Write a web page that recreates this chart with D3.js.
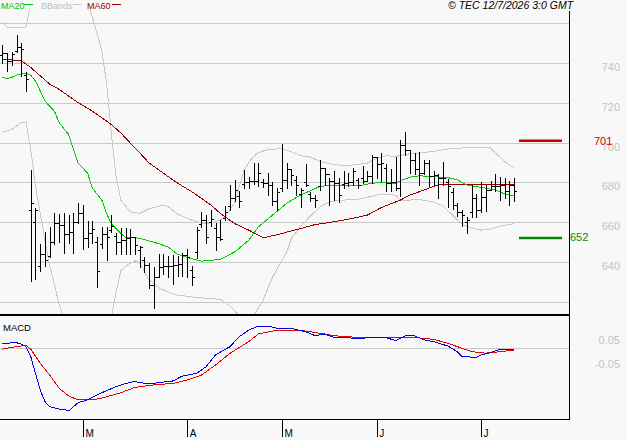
<!doctype html>
<html>
<head>
<meta charset="utf-8">
<script src="https://cdnjs.cloudflare.com/ajax/libs/d3/7.8.5/d3.min.js"></script>
<style>
    body { margin: 0; background: #f8f8f8; }
    svg { display: block; font-family: "Liberation Sans", Arial, sans-serif; }
</style>
</head>
<body>
<svg width="627" height="440"></svg>
<script>
    // daily OHLC, index 0 = first session on screen
    var opens = [744,745,741,746,748,734,666,660,638,644,
        643,650,659.5,658.5,654,655,660,664.5,652,654.5,
        650,649,654,656,653,650,651,652,652.5,646,
        641,638.5,628.5,632.5,637.5,638,638,638.5,639,643.5,
        636,645,659,661,660,657,652.5,662,668,672,
        673,679,680,680.5,680.5,680,679.5,678.5,670.5,677,
        681,686.5,681,674,680,674,672,678,687,684,
        680.5,679.5,679,679.5,680,681,682,680.5,683,693,
        689,687,679.5,680,677,699,696.5,691.5,686.5,684.5,
        689.5,683,683.5,682,680,675,668.5,665,660,665,
        672,666,672.5,676,678,678,678.5,675.5,678.5];
    var highs = [749,745,745.5,754,750,735.5,686,667,649,655,
        657.5,664.5,664,664.5,663.5,664.5,669.5,668.5,660.5,660.5,
        652.5,657.5,657.5,663.5,654.5,657,657,656.5,652.5,648,
        642.5,639.5,637.5,644,644,643,643.5,643,644.5,646.5,
        638,657.5,665,663.5,666,659.5,661,668,678.5,681,
        675.5,686,682.5,690,690,681.5,684.5,680,677,699.5,
        689.5,686.5,683,677,689,675,673.5,691.5,687,682,
        685.5,682,685.5,684.5,687,682,688,685.5,694,693,
        695,689,686.5,693,701.5,705.5,696.5,695,695.5,691.5,
        691.5,685.5,684,690.5,681.5,677,669.5,666,662.5,678.5,
        674,680,678.5,680.5,684,682.5,682,680.5,682];
    var lows = [740,736,739,745.5,733.5,726,630.5,631.5,635.5,638,
        642.5,649,650,644.5,649.5,644.5,659.5,646.5,647.5,649.5,
        627.5,647,641,655,644,644,644,644,644,637.5,
        635,627,617,632.5,634,632.5,629,633,633,632.5,
        628.5,642,657.5,649.5,658,646,651,661,666,670.5,
        667.5,677,677,679,678,677.5,673.5,668.5,666,675.5,
        677,678.5,673.5,667.5,678,670.5,667.5,676,678.5,668.5,
        671,670,677,678,678.5,677,679.5,680.5,679.5,682,
        680.5,675.5,675.5,676,673,694,684.5,684,678.5,684,
        678,678.5,672,678.5,667.5,666.5,663,658,654.5,662.5,
        662.5,665,665.5,676,675.5,671,672,668.5,670.5];
    var closes = [745,741,744.5,748,747,732,669.5,666,644,641,
        650,659.5,658.5,654,655,660,664.5,652,654.5,656.5,
        635.5,654,652.5,658,650,651,652,652.5,648.5,647.5,
        638.5,628.5,632.5,637.5,638,638,638.5,639,643.5,642.5,
        632.5,656,661,652.5,661.5,652.5,651.5,665,672,676,
        670.5,680,680.5,680.5,684.5,679.5,678.5,670.5,675,681,
        686.5,683.5,678.5,676,678.5,672,671,687,684,680.5,
        679.5,673.5,679.5,680,685.5,678.5,680.5,683,693,689,
        689.5,679.5,680,677,699,696.5,691.5,686.5,684.5,689.5,
        683,683.5,682,682,678,668.5,665,663.5,661,672,
        666,672.5,676,678,678,678.5,675.5,678.5,675.5];

    // indicator readings as [session index, value]
    var ma20 = [[0,732.8],[1,732.3],[2,732.8],[3,733.9],[5,734.9],[6,733.9],[7,731],[8,726],[9,720.9],[11,715.8],
        [12,710],[14,704.1],[15,696.5],[16,689.7],[18,684.7],[19,677.1],[21,671.1],[22,664.4],[23,659.3],[25,654.3],
        [26,652.3],[28,652.3],[30,651.2],[33,649.2],[35,647.5],[37,643.8],[40,641.6],[42,640.4],[44,640.8],[46,641.3],
        [49,645],[52,650.9],[54,657.6],[57,663.5],[60,669.5],[63,673.7],[65,675.8],[67,677.9],[69,678.6],[72,678.2],
        [75,678.2],[78,679.6],[80,679.9],[83,679.6],[84,680.9],[86,682.6],[88,683.3],[91,682.9],[94,682.4],[96,681.3],
        [98,678.7],[100,677.9],[102,677.1],[104,676.2],[106,674.2],[108,673.2]];
    var ma60 = [[0,742],[4,741.2],[6,737.8],[8,733.6],[10,729.4],[12,726.8],[14,723.4],[16,720.1],[19,715.8],[21,712.5],
        [23,709.1],[25,704.9],[27,699.8],[29,694.8],[31,689.7],[33,686.3],[35,682.9],[37,679.6],[40,675.3],[42,672],
        [44,668.6],[46,664.4],[49,659.3],[52,656],[54,653.4],[55,652.3],[56,652.6],[59,654.3],[61,655.6],[63,656.8],
        [66,658.8],[70,660.2],[73,661.5],[77,663.5],[80,667.4],[84,671.1],[86,673.7],[88,675.3],[90,677.1],[92,678.7],
        [94,679.1],[98,678.7],[101,678.7],[105,678.7],[108,678.7]];
    var bbUpper = [[0,760.6],[1,758.1],[5,758.1],[6,770],[7,782],[9,792],[12,796],[15,790],[17,780],[18,771],
        [19,763],[20,755],[21,746],[22,730],[23,704.7],[24,682.9],[25,671],[27,665.2],[29,664.4],[31,666.8],
        [34,668.6],[35,667.8],[37,664],[40,661],[43,659],[46,661],[47,662.7],[49,669.6],[50,678],[51,686],
        [52,690],[53,693],[54,694.9],[56,696.5],[59,697],[61,695.4],[63,693.4],[65,692.7],[67,690.5],[70,688.9],
        [73,688.4],[77,689.7],[79,692.3],[81,693.4],[83,693.1],[86,694.4],[88,694.8],[91,695.6],[94,696.8],[97,697.3],
        [100,697.3],[103,697.3],[104,694.8],[106,690.5],[108,687.2]];
    var bbLower = [[0,705.2],[2,706.6],[3,708.3],[4,710.3],[5,710.3],[6,696.5],[7,678.2],[8,664.6],[9,650.9],[10,638.2],
        [11,628.6],[12,618.5],[13,611.4],[15,603],[18,600],[20,602],[22,607.8],[23,612],[24,624.5],[25,635.5],
        [26,637.8],[27,639.3],[28,640.6],[29,639.5],[30,635],[31,631],[33,627],[35,624.8],[37,623.3],[40,622.4],
        [43,621.7],[46,621.2],[48,618],[50,612.9],[52,610.4],[53,612.9],[55,620.5],[56,626.6],[57,632.2],[58,636.7],
        [60,644.8],[61,651.9],[63,658],[65,663],[67,667.6],[69,670.3],[72,671.1],[75,671.5],[77,672.5],[80,674.2],
        [83,673.5],[84,671],[86,671.1],[88,671.4],[91,670.1],[93,668.1],[95,663.5],[97,659],[99,657],[101,656],
        [103,656.5],[105,658],[108,659.3]];
    var macd = [[0,0.019],[3,0.0215],[4,0.016],[5,0.005],[6,-0.035],[7,-0.103],[8,-0.171],[9,-0.218],[10,-0.239],[12,-0.248],
        [13,-0.249],[14,-0.256],[15,-0.239],[16,-0.222],[18,-0.211],[19,-0.2],[21,-0.182],[24,-0.157],[27,-0.139],[28,-0.137],
        [31,-0.146],[33,-0.141],[36,-0.134],[38,-0.114],[41,-0.103],[43,-0.076],[45,-0.028],[48,0.005],[50,0.046],[52,0.073],
        [54,0.089],[56,0.089],[58,0.08],[61,0.08],[64,0.066],[66,0.05],[68,0.057],[70,0.043],[73,0.042],[75,0.037],
        [77,0.042],[81,0.042],[83,0.03],[85,0.049],[87,0.049],[89,0.033],[91,0.026],[94,0.008],[96,-0.015],[97,-0.035],
        [100,-0.038],[101,-0.028],[103,-0.019],[105,-0.005],[106,-0.008],[108,-0.005]];
    var signal = [[0,-0.005],[2,0.003],[5,0.011],[6,-0.005],[8,-0.062],[10,-0.11],[12,-0.164],[14,-0.195],[16,-0.211],[19,-0.211],
        [21,-0.204],[25,-0.182],[28,-0.16],[32,-0.15],[36,-0.144],[39,-0.13],[42,-0.11],[45,-0.069],[48,-0.022],[52,0.026],
        [54,0.057],[57,0.069],[61,0.073],[64,0.069],[67,0.06],[70,0.05],[75,0.043],[81,0.043],[84,0.041],[87,0.043],
        [91,0.035],[94,0.019],[97,-0.001],[99,-0.015],[102,-0.021],[105,-0.015],[108,-0.008]];

    var gridLevels = [620, 640, 660, 680, 700, 720, 740, 760];
    var priceTicks = [640, 660, 680, 700, 720, 740];
    var macdTicks = [0.05, -0.05];
    var macdTickLabels = ["0.05", "-0.05"];
    var monthIdx = [17, 39, 59, 79, 101];
    var monthLabels = ["M", "A", "M", "J", "J"];
    var resistance = 701, support = 652;

    var W = 569;
    var svg = d3.select("svg");
    svg.append("rect").attr("width", 627).attr("height", 440).style("fill", "#f8f8f8");

    var x = d3.scaleLinear().domain([0, 108]).range([2.3, 514.2]);
    var y = d3.scaleLinear().domain([620, 760]).range([301.7, 23.3]);
    var ym = d3.scaleLinear().domain([-0.05, 0.05]).range([360.3, 335.7]);
    var px = i => Math.round(x(i)) + 0.5;
    var py = v => Math.round(y(v)) + 0.5;

    var defs = svg.append("defs");
    defs.append("clipPath").attr("id", "clipMain")
        .append("rect").attr("x", 0).attr("y", 9).attr("width", W).attr("height", 305);
    defs.append("clipPath").attr("id", "clipMacd")
        .append("rect").attr("x", 0).attr("y", 316).attr("width", W).attr("height", 103);

    // grid
    svg.append("g").selectAll("line").data(gridLevels).enter().append("line")
        .attr("x1", 0).attr("x2", W)
        .attr("y1", d => py(d)).attr("y2", d => py(d))
        .style("stroke", "#c8c8c8").style("shape-rendering", "crispEdges");

    var main = svg.append("g").attr("clip-path", "url(#clipMain)");
    var line = d3.line().x(d => x(d[0])).y(d => y(d[1]));

    main.append("path").datum(bbUpper).attr("d", line)
        .style("fill", "none").style("stroke", "#c8c8c8").style("shape-rendering", "crispEdges");
    main.append("path").datum(bbLower).attr("d", line)
        .style("fill", "none").style("stroke", "#c8c8c8").style("shape-rendering", "crispEdges");
    main.append("path").datum(ma60).attr("d", line)
        .style("fill", "none").style("stroke", "#990000").style("shape-rendering", "crispEdges");
    main.append("path").datum(ma20).attr("d", line)
        .style("fill", "none").style("stroke", "#00cc00").style("shape-rendering", "crispEdges");

    // OHLC bars
    var bars = main.append("g").selectAll("g").data(d3.range(highs.length)).enter().append("g")
        .style("stroke", "black").style("shape-rendering", "crispEdges");
    bars.append("line")
        .attr("x1", px).attr("x2", px)
        .attr("y1", i => Math.round(y(highs[i]))).attr("y2", i => Math.round(y(lows[i])) + 1);
    bars.append("line")
        .attr("x1", i => px(i) - 2.5).attr("x2", px)
        .attr("y1", i => py(opens[i])).attr("y2", i => py(opens[i]));
    bars.append("line")
        .attr("x1", px).attr("x2", i => px(i) + 2.5)
        .attr("y1", i => py(closes[i])).attr("y2", i => py(closes[i]));

    // support / resistance marks
    svg.append("line").attr("x1", 519).attr("x2", 562)
        .attr("y1", y(resistance)).attr("y2", y(resistance))
        .style("stroke", "#cc0000").style("stroke-width", 2.5);
    svg.append("line").attr("x1", 519).attr("x2", 562)
        .attr("y1", y(support)).attr("y2", y(support))
        .style("stroke", "#008a00").style("stroke-width", 2.5);

    // price axis labels
    var ay = svg.append("g").attr("transform", "translate(620,0)")
        .call(d3.axisRight(y).tickValues(priceTicks).tickSize(0).tickFormat(d3.format("d")));
    ay.select(".domain").remove();
    ay.selectAll("text").attr("x", 0).attr("dy", "0.68em").attr("text-anchor", "end")
        .style("font-family", "'Liberation Sans', Arial, sans-serif").style("font-size", "11px")
        .style("fill", "#c4c4c4");

    svg.append("text").attr("x", 594).attr("y", y(resistance) + 4)
        .style("font-size", "11px").style("fill", "#cc0000").text(resistance);
    svg.append("text").attr("x", 570).attr("y", y(support) + 3)
        .style("font-size", "11px").style("fill", "#009000").text(support);

    // MACD panel
    svg.append("line").attr("x1", 0).attr("x2", W)
        .attr("y1", Math.round(ym(0)) + 0.5).attr("y2", Math.round(ym(0)) + 0.5)
        .style("stroke", "#c8c8c8").style("shape-rendering", "crispEdges");
    var mp = svg.append("g").attr("clip-path", "url(#clipMacd)");
    var mline = d3.line().x(d => x(d[0])).y(d => ym(d[1]));
    mp.append("path").datum(signal).attr("d", mline)
        .style("fill", "none").style("stroke", "#ee0000").style("shape-rendering", "crispEdges");
    mp.append("path").datum(macd).attr("d", mline)
        .style("fill", "none").style("stroke", "#0000ee").style("shape-rendering", "crispEdges");

    var am = svg.append("g").attr("transform", "translate(620,0)")
        .call(d3.axisRight(ym).tickValues(macdTicks).tickSize(0).tickFormat((d, i) => macdTickLabels[i]));
    am.select(".domain").remove();
    am.selectAll("text").attr("x", 0).attr("dy", "0.68em").attr("text-anchor", "end")
        .style("font-family", "'Liberation Sans', Arial, sans-serif").style("font-size", "11px")
        .style("fill", "#c4c4c4");

    svg.append("text").attr("x", 3).attr("y", 331)
        .style("font-size", "9.5px").style("fill", "black").text("MACD");

    // frame
    svg.append("rect").attr("x", 0).attr("y", 314).attr("width", W).attr("height", 2).style("fill", "black");
    svg.append("line").attr("x1", W + 0.5).attr("x2", W + 0.5).attr("y1", 11).attr("y2", 420)
        .style("stroke", "black").style("shape-rendering", "crispEdges");
    svg.append("line").attr("x1", 0).attr("x2", W + 1).attr("y1", 419.5).attr("y2", 419.5)
        .style("stroke", "black").style("shape-rendering", "crispEdges");

    // months
    var ax = svg.append("g").attr("transform", "translate(0,419)")
        .call(d3.axisBottom(x).tickValues(monthIdx).tickSize(18).tickFormat((d, i) => monthLabels[i]));
    ax.select(".domain").remove();
    ax.selectAll("line").style("stroke", "black").style("shape-rendering", "crispEdges");
    ax.selectAll("text").attr("x", 2).attr("y", 11).attr("dy", "0.71em").attr("text-anchor", "start")
        .style("font-family", "'Liberation Sans', Arial, sans-serif").style("font-size", "10px")
        .style("fill", "black");

    // legend
    var legend = [
        {name: "MA20", tx: 1, lx: 24, col: "#00cc00", tc: "#00c000"},
        {name: "BBands", tx: 41, lx: 73, col: "#c8c8c8", tc: "#c0c0c0"},
        {name: "MA60", tx: 87, lx: 112, col: "#990000", tc: "#990000"}
    ];
    var lg = svg.append("g").selectAll("g").data(legend).enter().append("g");
    lg.append("text").attr("x", d => d.tx).attr("y", 8.5)
        .style("font-size", "9px").style("fill", d => d.tc).text(d => d.name);
    lg.append("line").attr("x1", d => d.lx).attr("x2", d => d.lx + 9).attr("y1", 4.5).attr("y2", 4.5)
        .style("stroke", d => d.col).style("shape-rendering", "crispEdges");

    svg.append("text").attr("x", 448).attr("y", 9)
        .style("font-size", "10.5px").style("font-style", "italic").style("fill", "black")
        .text("\u00a9 TEC 12/7/2026 3:0 GMT");
</script>
</body>
</html>
